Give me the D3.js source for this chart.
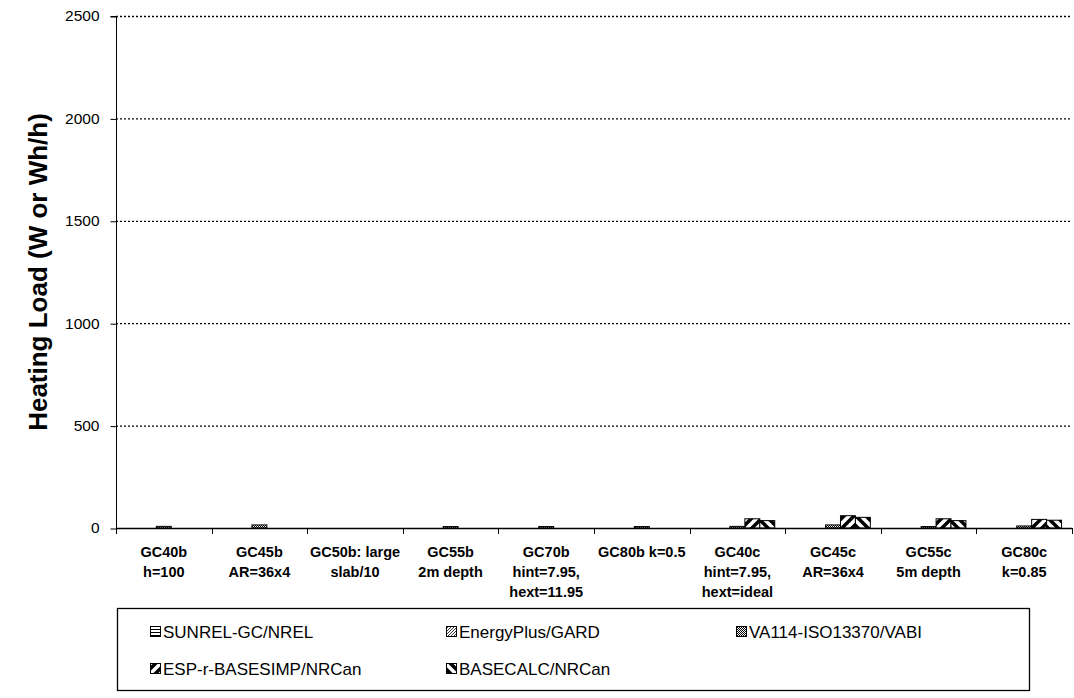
<!DOCTYPE html>
<html>
<head>
<meta charset="utf-8">
<script src="https://cdn.jsdelivr.net/npm/d3@7"></script>
<style>
  html, body { margin: 0; padding: 0; background: #fff; }
  svg { display: block; }
</style>
</head>
<body>
<svg id="chart" width="1074" height="698"></svg>
<script>
// ---- data ----
const categories = [
  ["GC40b", "h=100"],
  ["GC45b", "AR=36x4"],
  ["GC50b: large", "slab/10"],
  ["GC55b", "2m depth"],
  ["GC70b", "hint=7.95,", "hext=11.95"],
  ["GC80b k=0.5"],
  ["GC40c", "hint=7.95,", "hext=ideal"],
  ["GC45c", "AR=36x4"],
  ["GC55c", "5m depth"],
  ["GC80c", "k=0.85"]
];
const seriesNames = ["SUNREL-GC/NREL", "EnergyPlus/GARD", "VA114-ISO13370/VABI", "ESP-r-BASESIMP/NRCan", "BASECALC/NRCan"];
const sunrelValues     = [null, null, null, null, null, null, null, null, null, null];
const energyPlusValues = [null, null, null, null, null, null, null, null, null, null];
const va114Values      = [8, 15, null, 7, 7, 7, 8, 15, 7, 10];
const esprValues       = [null, null, null, null, null, null, 45, 60, 45, 42];
const basecalcValues   = [null, null, null, null, null, null, 36, 52, 36, 38];
const seriesValues = [sunrelValues, energyPlusValues, va114Values, esprValues, basecalcValues];
const yTicks = [0, 500, 1000, 1500, 2000, 2500];
const yTitle = "Heating Load (W or Wh/h)";

// ---- layout ----
const svg = d3.select("#chart");
const M = { left: 116, right: 1072, top: 16, bottom: 528 };
const catIds = categories.map((c, i) => i);
const x0 = d3.scaleBand().domain(catIds).range([M.left, M.right]).paddingInner(0).paddingOuter(0);
const x1 = d3.scaleBand().domain(d3.range(seriesNames.length)).range([0, x0.bandwidth()]).paddingInner(0).paddingOuter(0.7);
const y = d3.scaleLinear().domain([0, 2500]).range([M.bottom, M.top]);
const FONT = "Liberation Sans, Arial, sans-serif";

// ---- patterns ----
const defs = svg.append("defs");
const p0 = defs.append("pattern").attr("id", "pat0").attr("patternUnits", "userSpaceOnUse").attr("width", 4).attr("height", 3);
p0.append("rect").attr("width", 4).attr("height", 3).attr("fill", "#fff");
p0.append("rect").attr("y", 0).attr("width", 4).attr("height", 1).attr("fill", "#000");
const p1 = defs.append("pattern").attr("id", "pat1").attr("patternUnits", "userSpaceOnUse").attr("width", 3).attr("height", 3);
p1.append("rect").attr("width", 3).attr("height", 3).attr("fill", "#fff");
p1.append("path").attr("d", "M0,3 L3,0 M-1,1 L1,-1 M2,4 L4,2").attr("stroke", "#000").attr("stroke-width", 0.8);
const p2 = defs.append("pattern").attr("id", "pat2").attr("patternUnits", "userSpaceOnUse").attr("width", 2).attr("height", 2);
p2.append("rect").attr("width", 2).attr("height", 2).attr("fill", "#fff");
p2.append("rect").attr("width", 1).attr("height", 1).attr("fill", "#000");
p2.append("rect").attr("x", 1).attr("y", 1).attr("width", 1).attr("height", 1).attr("fill", "#000");
const p3 = defs.append("pattern").attr("id", "pat3").attr("patternUnits", "userSpaceOnUse").attr("width", 10).attr("height", 10);
p3.append("rect").attr("width", 10).attr("height", 10).attr("fill", "#fff");
p3.append("path").attr("d", "M-2,12 L12,-2 M-7,7 L7,-7 M3,17 L17,3").attr("stroke", "#000").attr("stroke-width", 3.5);
const p4 = defs.append("pattern").attr("id", "pat4").attr("patternUnits", "userSpaceOnUse").attr("width", 10).attr("height", 10);
p4.append("rect").attr("width", 10).attr("height", 10).attr("fill", "#fff");
p4.append("path").attr("d", "M-2,-2 L12,12 M-7,3 L7,17 M3,-7 L17,7").attr("stroke", "#000").attr("stroke-width", 3.5);

// ---- gridlines ----
svg.append("g").selectAll("line").data(yTicks.filter(d => d > 0)).join("line")
  .attr("x1", M.left).attr("x2", M.right)
  .attr("y1", d => y(d) + 0.5).attr("y2", d => y(d) + 0.5)
  .attr("stroke", "#000").attr("stroke-width", 1.3).attr("stroke-dasharray", "2,2");

// ---- bars ----
const barData = [];
categories.forEach((c, ci) => {
  seriesValues.forEach((vals, si) => {
    const v = vals[ci];
    if (v != null) barData.push({ ci, si, v });
  });
});
svg.append("g").selectAll("rect").data(barData).join("rect")
  .attr("x", d => x0(d.ci) + x1(d.si))
  .attr("width", x1.bandwidth())
  .attr("y", d => y(d.v))
  .attr("height", d => y(0) - y(d.v))
  .attr("fill", d => `url(#pat${d.si})`)
  .attr("stroke", "#000").attr("stroke-width", 1);

// ---- axes ----
const yAxis = d3.axisLeft(y).tickValues(yTicks).tickSize(6).tickPadding(11).tickFormat(d3.format("d"));
const gy = svg.append("g").attr("transform", `translate(${M.left + 0.5},0)`).call(yAxis);
gy.select(".domain").attr("stroke", "#000").attr("d", `M-6,${M.top + 0.5}H0V${M.bottom + 0.5}`);
gy.selectAll(".tick line").attr("stroke", "#000").attr("transform", "translate(0,0.5)");
gy.selectAll(".tick text").attr("font-family", FONT).attr("font-size", 15.5).attr("fill", "#000");

const boundaries = catIds.map(i => x0(i)).concat([M.right]);
const gx = svg.append("g");
gx.append("line").attr("x1", M.left).attr("x2", M.right).attr("y1", M.bottom + 0.5).attr("y2", M.bottom + 0.5)
  .attr("stroke", "#000").attr("stroke-width", 1.3);
gx.selectAll("line.tk").data(boundaries).join("line").attr("class", "tk")
  .attr("x1", d => Math.round(d) + 0.5).attr("x2", d => Math.round(d) + 0.5)
  .attr("y1", M.bottom).attr("y2", M.bottom + 6)
  .attr("stroke", "#000");

const lab = svg.append("g").selectAll("text").data(categories).join("text")
  .attr("text-anchor", "middle")
  .attr("font-family", FONT)
  .attr("font-weight", "bold").attr("font-size", 14.5).attr("fill", "#000");
lab.each(function(lines, i) {
  const t = d3.select(this);
  lines.forEach((ln, k) => {
    t.append("tspan").attr("x", x0(i) + x0.bandwidth() / 2).attr("y", 557 + k * 20).text(ln);
  });
});

svg.append("text")
  .attr("transform", `translate(47,${(M.top + M.bottom) / 2}) rotate(-90)`)
  .attr("text-anchor", "middle")
  .attr("font-family", FONT)
  .attr("font-weight", "bold").attr("font-size", 26).attr("fill", "#000")
  .text(yTitle);

// ---- legend ----
const lg = svg.append("g");
lg.append("rect").attr("x", 117.5).attr("y", 608.5).attr("width", 912).attr("height", 82)
  .attr("fill", "#fff").attr("stroke", "#000").attr("stroke-width", 1.3);
const legCols = [150, 446, 736];
const legRows = [632, 669];
const items = lg.selectAll("g.item").data(seriesNames).join("g").attr("class", "item")
  .attr("transform", (d, i) => `translate(${legCols[i % 3]},${legRows[Math.floor(i / 3)]})`);
items.append("rect").attr("x", 0.5).attr("y", -5.5).attr("width", 10).attr("height", 10)
  .attr("fill", (d, i) => `url(#pat${i})`).attr("stroke", "#000");
items.append("text").attr("x", 13).attr("y", 6)
  .attr("font-family", FONT)
  .attr("font-size", 17).attr("fill", "#000")
  .text(d => d);
</script>
</body>
</html>
